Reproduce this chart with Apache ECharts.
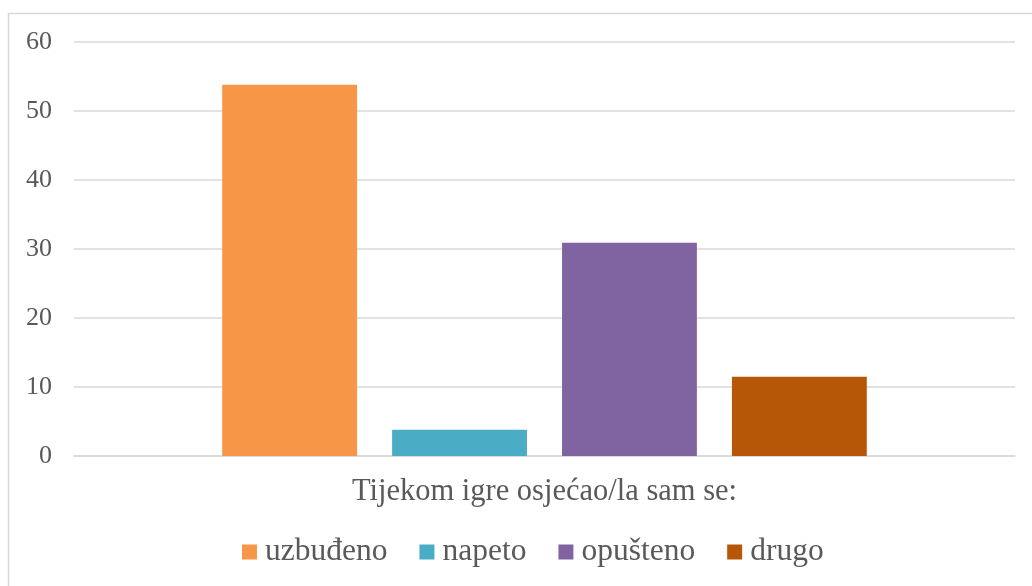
<!DOCTYPE html>
<html>
<head>
	<meta charset="utf-8">
	<title>chart</title>
	<script type="text/javascript" src="https://cdn.jsdelivr.net/npm/echarts@6/dist/echarts.min.js"></script>
</head>
<body style="margin:0">
	<div id="main" style="width: 1032px;height:586px;"></div>
	<script type="text/javascript">
		var category = ['Tijekom igre osjećao/la sam se:'];
		var seriesNames = ['uzbuđeno', 'napeto', 'opušteno', 'drugo'];
		var seriesValues = [53.8, 3.8, 30.9, 11.5];
		var colors = ['#f79646', '#4bacc6', '#8064a2', '#b65708'];

		var FONT = 'Liberation Serif';
		var GREY = '#595959';

		var series = [];
		seriesNames.forEach(function(name, i){
			series.push({
				name: name,
				type: 'bar',
				data: [seriesValues[i]],
				itemStyle: { color: colors[i] },
				barGap: '26%',
				barCategoryGap: '31.5%'
			});
		});

		var myChart = echarts.init(document.getElementById('main'));

		var option = {
			animation: false,
			backgroundColor: '#fff',
			graphic: [{
				type: 'rect',
				shape: { x: 8.5, y: 13.5, width: 1030, height: 590 },
				style: { fill: 'none', stroke: '#d9d9d9', lineWidth: 1.5 }
			}],
			grid: { left: 74, right: 17, top: 42, bottom: 130 },
			legend: {
				top: 531,
				left: 237,
				itemWidth: 15,
				itemHeight: 15,
				itemGap: 32,
				icon: 'rect',
				textStyle: { fontFamily: FONT, fontSize: 31.5, lineHeight: 30, color: GREY, padding: [0, 0, 0, 3] }
			},
			xAxis: {
				type: 'category',
				data: category,
				axisTick: { show: false },
				axisLine: { lineStyle: { color: '#d9d9d9', width: 1.5 } },
				axisLabel: { fontFamily: FONT, fontSize: 30.5, color: GREY, margin: 20 }
			},
			yAxis: {
				type: 'value',
				min: 0,
				max: 60,
				interval: 10,
				axisLine: { show: false },
				axisTick: { show: false },
				splitLine: { lineStyle: { color: '#d9d9d9', width: 1.5 } },
				axisLabel: { fontFamily: FONT, fontSize: 26, color: GREY, margin: 22 }
			},
			series: series
		};

		myChart.setOption(option);
	</script>
</body>
</html>
